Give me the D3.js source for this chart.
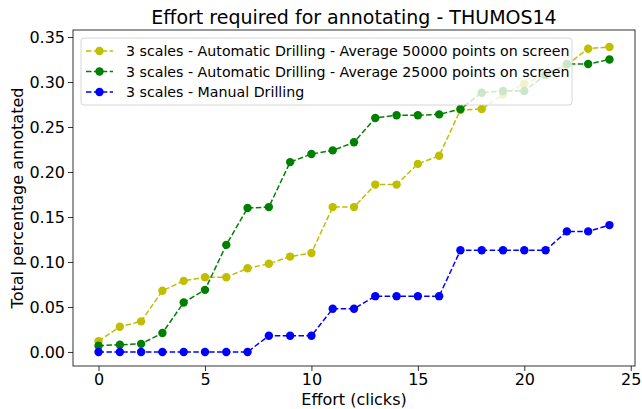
<!DOCTYPE html>
<html>
<head>
<meta charset="utf-8">
<script src="https://cdn.jsdelivr.net/npm/d3@7"></script>
<style>
  body { margin: 0; background: #fff; }
  text { font-family: "DejaVu Sans", sans-serif; }
</style>
</head>
<body>
<script>
var clicks = d3.range(0, 25);
var auto50k = [0.012, 0.028, 0.034, 0.068, 0.079, 0.083, 0.083, 0.093, 0.098, 0.106, 0.110,
  0.161, 0.161, 0.186, 0.186, 0.209, 0.218, 0.269, 0.270, 0.286, 0.298, 0.308, 0.319, 0.337, 0.339];
var auto25k = [0.007, 0.008, 0.009, 0.021, 0.055, 0.069, 0.119, 0.160, 0.161, 0.211, 0.220,
  0.224, 0.233, 0.260, 0.263, 0.263, 0.264, 0.270, 0.288, 0.290, 0.290, 0.308, 0.320, 0.320, 0.325];
var manual = [0, 0, 0, 0, 0, 0, 0, 0, 0.018, 0.018, 0.018,
  0.048, 0.048, 0.062, 0.062, 0.062, 0.062, 0.113, 0.113, 0.113, 0.113, 0.113, 0.134, 0.134, 0.141];
var seriesNames = [
  "3 scales - Automatic Drilling - Average 50000 points on screen",
  "3 scales - Automatic Drilling - Average 25000 points on screen",
  "3 scales - Manual Drilling"
];
var seriesColors = ["#bfbf00", "#008000", "#0000ff"];
var xTicks = [0, 5, 10, 15, 20, 25];
var yTicks = [0, 0.05, 0.10, 0.15, 0.20, 0.25, 0.30, 0.35];

var width = 642, height = 409;
var pLeft = 73, pRight = 635, pTop = 30, pBottom = 366;

var svg = d3.select("body").append("svg")
  .attr("width", width)
  .attr("height", height);

var x = d3.scaleLinear().domain([-1.2, 25.2]).range([pLeft, pRight]);
var y = d3.scaleLinear().domain([-0.0156, 0.3578]).range([pBottom, pTop]);

var series = [auto50k, auto25k, manual];

var plotg = svg.append("g");
var line = d3.line()
  .x(function (d, i) { return x(clicks[i]); })
  .y(function (d) { return y(d); });

for (var s = 0; s < series.length; s++) {
  plotg.append("path")
    .attr("d", line(series[s]))
    .attr("fill", "none")
    .attr("stroke", seriesColors[s])
    .attr("stroke-width", 1.5)
    .attr("stroke-dasharray", "5.5,2.4");
  plotg.selectAll(null)
    .data(series[s])
    .enter().append("circle")
    .attr("cx", function (d, i) { return x(clicks[i]); })
    .attr("cy", function (d) { return y(d); })
    .attr("r", 4.2)
    .attr("fill", seriesColors[s]);
}

// axes
var xAxis = svg.append("g")
  .attr("transform", "translate(0," + pBottom + ")")
  .call(d3.axisBottom(x).tickValues(xTicks).tickSize(5).tickPadding(3).tickFormat(d3.format("d")));
var yAxis = svg.append("g")
  .attr("transform", "translate(" + pLeft + ",0)")
  .call(d3.axisLeft(y).tickValues(yTicks).tickSize(5).tickPadding(3).tickFormat(d3.format(".2f")));
[xAxis, yAxis].forEach(function (a) {
  a.select(".domain").remove();
  a.selectAll(".tick line").attr("stroke", "#000").attr("stroke-width", 0.8);
  a.selectAll(".tick text").attr("fill", "#000").style("font-size", "16px").style("font-family", "DejaVu Sans");
});

svg.append("rect")
  .attr("x", pLeft)
  .attr("y", pTop)
  .attr("width", pRight - pLeft)
  .attr("height", pBottom - pTop)
  .attr("fill", "none")
  .attr("stroke", "#000")
  .attr("stroke-width", 0.8);

// legend
var lg = svg.append("g");
lg.append("rect")
  .attr("x", 81)
  .attr("y", 38)
  .attr("width", 491)
  .attr("height", 67)
  .attr("rx", 3)
  .attr("fill", "rgba(255,255,255,0.8)")
  .attr("stroke", "#cccccc")
  .attr("stroke-width", 0.8);
for (var k = 0; k < seriesNames.length; k++) {
  var ly = 51 + k * 20.5;
  lg.append("line")
    .attr("x1", 86).attr("x2", 113)
    .attr("y1", ly).attr("y2", ly)
    .attr("stroke", seriesColors[k])
    .attr("stroke-width", 1.5)
    .attr("stroke-dasharray", "5.5,2.4");
  lg.append("circle")
    .attr("cx", 99.5).attr("cy", ly).attr("r", 4.2)
    .attr("fill", seriesColors[k]);
  lg.append("text")
    .attr("x", 126).attr("y", ly + 5)
    .style("font-size", "14.2px")
    .attr("fill", "#000")
    .text(seriesNames[k]);
}

svg.append("text")
  .attr("x", (pLeft + pRight) / 2)
  .attr("y", 24)
  .attr("text-anchor", "middle")
  .style("font-size", "19px")
  .text("Effort required for annotating - THUMOS14");

svg.append("text")
  .attr("x", (pLeft + pRight) / 2)
  .attr("y", 405)
  .attr("text-anchor", "middle")
  .style("font-size", "16px")
  .text("Effort (clicks)");

svg.append("text")
  .attr("transform", "translate(23," + ((pTop + pBottom) / 2) + ") rotate(-90)")
  .attr("text-anchor", "middle")
  .style("font-size", "16px")
  .text("Total percentage annotated");
</script>
</body>
</html>
